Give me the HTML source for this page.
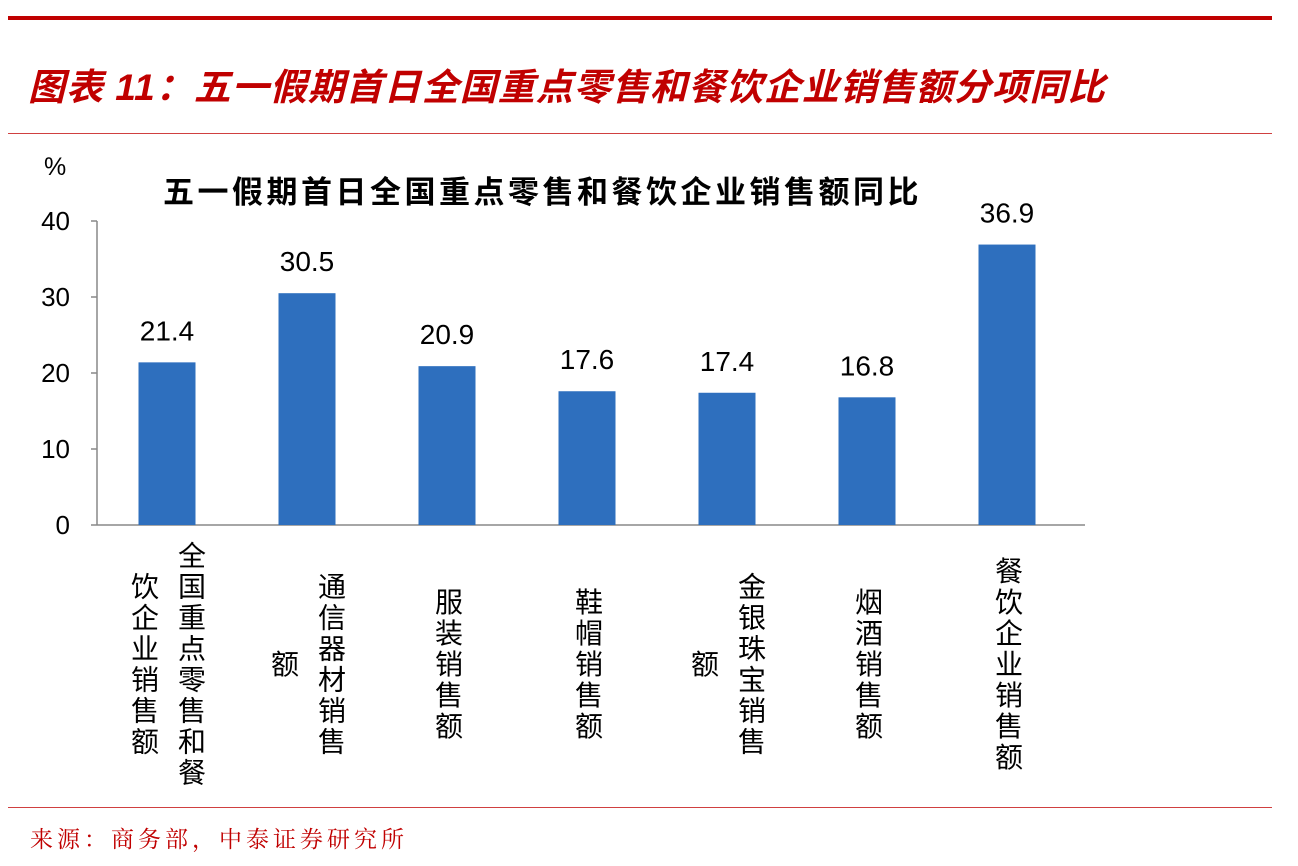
<!DOCTYPE html>
<html><head><meta charset="utf-8"><style>
body{margin:0;width:1298px;height:866px;background:#fff;position:relative;overflow:hidden;font-family:"Liberation Sans","Noto Sans CJK SC",sans-serif}
.abs{position:absolute}
.col{position:absolute;writing-mode:vertical-rl;white-space:nowrap;font-size:28px;letter-spacing:3px;line-height:30px;color:#000;transform:translate(-50%,-50%)}
</style></head><body>
<div class="abs" style="left:8px;top:16px;width:1264px;height:4px;background:#c00000"></div>
<div class="abs" style="left:28px;top:57px;font-size:37px;letter-spacing:1px;font-weight:bold;font-style:italic;color:#c00000;white-space:nowrap">图表 11：五一假期首日全国重点零售和餐饮企业销售额分项同比</div>
<div class="abs" style="left:8px;top:133px;width:1264px;height:1px;background:#d04040"></div>
<div class="abs" style="left:163px;top:167px;font-size:31px;letter-spacing:3.5px;font-weight:bold;white-space:nowrap">五一假期首日全国重点零售和餐饮企业销售额同比</div>
<div class="abs" style="left:44px;top:153px;font-size:25px">%</div>
<svg class="abs" style="left:0;top:0" width="1298" height="866" id="chart"></svg>
<div class="abs" style="left:8px;top:807px;width:1264px;height:1px;background:#d04040"></div>
<div class="abs" style="left:30px;top:821px;font-size:23px;letter-spacing:4px;color:#c00000;font-family:'Liberation Serif','Noto Serif CJK SC',serif">来源：商务部，中泰证券研究所</div>
<script>
const categories=[["全国重点零售和餐","饮企业销售额"],["通信器材销售","额"],["服装销售额"],["鞋帽销售额"],["金银珠宝销售","额"],["烟酒销售额"],["餐饮企业销售额"]];
const values=[21.4,30.5,20.9,17.6,17.4,16.8,36.9];
const labels=["21.4","30.5","20.9","17.6","17.4","16.8","36.9"];
const yTicks=[0,10,20,30,40];
const NS="http://www.w3.org/2000/svg";
const svg=document.getElementById('chart');
const x0=97,x1=1085,y0=525,yTop=221,yMax=40;
const y=v=>y0-(y0-yTop)*v/yMax;
const step=140,first=167;
const xc=i=>first+i*step;
function mk(t,a){const e=document.createElementNS(NS,t);for(const k in a)e.setAttribute(k,a[k]);svg.appendChild(e);return e;}
let ax=mk('line',{x1:x0,y1:y0,x2:x1,y2:y0,stroke:'#888','stroke-width':1.5});


let ay=mk('line',{x1:x0,y1:yTop,x2:x0,y2:y0,stroke:'#888','stroke-width':1.5});


yTicks.forEach(t=>{
 mk('line',{x1:x0-6,y1:y(t),x2:x0,y2:y(t),stroke:'#888','stroke-width':1.5});
 const tx=mk('text',{x:x0-27,y:y(t)+9,'text-anchor':'end','font-size':26,fill:'#000'});
 tx.textContent=t;
 
 
});
values.forEach((v,i)=>{
 const b=mk('rect',{x:xc(i)-28.5,y:y(v),width:57,height:y0-y(v),fill:'#2e6fbe'});
 
 
 const l=mk('text',{x:xc(i),y:y(v)-22,'text-anchor':'middle','font-size':28,fill:'#000'});
 l.textContent=labels[i];
 
 
 const cols=categories[i];
 cols.forEach((s,j)=>{
  const d=document.createElement('div');
  d.className='col';
  d.textContent=s;
  const cx=cols.length===1?xc(i):xc(i)+23-47*j;
  d.style.left=cx+'px';d.style.top='665px';
  
  
  document.body.appendChild(d);
 });
});
</script>
</body></html>
